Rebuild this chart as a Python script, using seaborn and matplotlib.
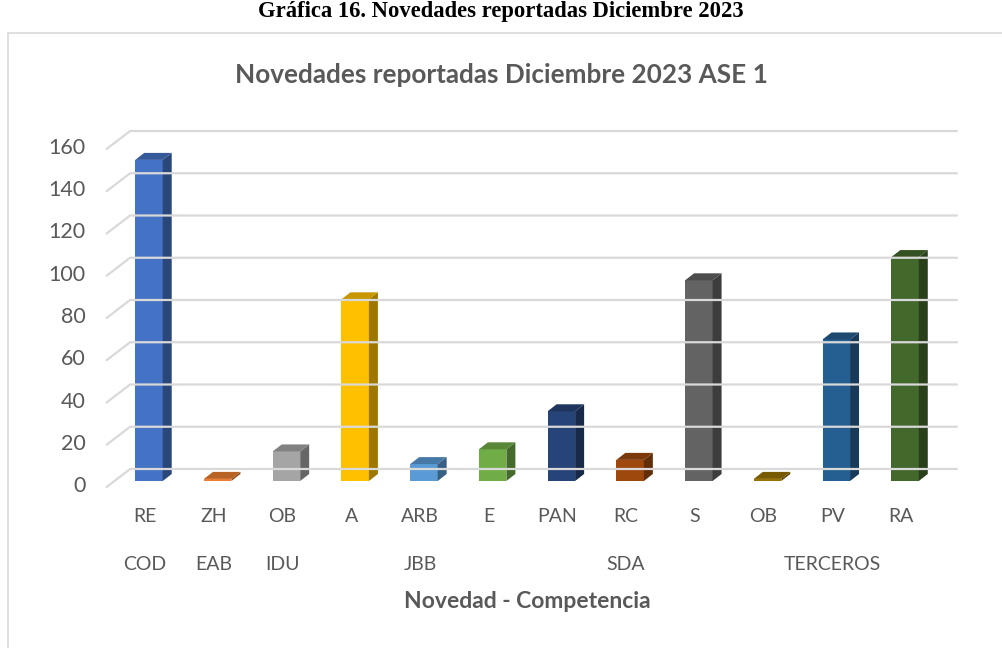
import matplotlib
matplotlib.use("Agg")
import matplotlib.pyplot as plt
import matplotlib.colors as mcolors
import matplotlib.transforms as mtransforms
from matplotlib.patches import Polygon, Rectangle
from matplotlib.lines import Line2D
import seaborn as sns
import pandas as pd

# Data
novedades = ['RE', 'ZH', 'OB', 'A', 'ARB', 'E', 'PAN', 'RC', 'S', 'OB', 'PV', 'RA']
competencias = ['COD', 'EAB', 'IDU', 'JBB', 'SDA', 'TERCEROS']
grupo = ['COD', 'EAB', 'IDU', 'JBB', 'JBB', 'JBB', 'SDA', 'SDA', 'SDA', 'TERCEROS', 'TERCEROS', 'TERCEROS']
cantidad = [152, 1, 14, 86, 8, 15, 33, 10, 95, 1, 67, 106]
colores = ['#4472C4', '#ED7D31', '#A5A5A5', '#FFC000', '#5B9BD5', '#70AD47',
           '#264478', '#9E480E', '#636363', '#997300', '#255E91', '#43682B']
y_ticks = [0, 20, 40, 60, 80, 100, 120, 140, 160]

df = pd.DataFrame({'pos': range(len(novedades)), 'novedad': novedades,
                   'grupo': grupo, 'cantidad': cantidad})

sns.set_style('white')
plt.rcParams['font.family'] = ['Lato', 'DejaVu Sans']
gris = '#595959'
W, H = 1002, 648

fig = plt.figure(figsize=(W / 100, H / 100), dpi=100)
ax = fig.add_axes([114.6 / W, (H - 481) / H, 824.8 / W, 338 / H])

sns.barplot(data=df, x='pos', y='cantidad', hue='pos', palette=colores,
            legend=False, width=0.4, ax=ax, zorder=3, saturation=1,
            edgecolor='none', linewidth=0)
ax.set_xlim(-0.5, len(novedades) - 0.5)
ax.set_ylim(0, 160)
sns.despine(ax=ax, left=True, bottom=True)
ax.set_xlabel('')
ax.set_ylabel('')

# depth of the 3D effect, in pixels
dx, dy = 9, 7
ident = mtransforms.IdentityTransform()

# back-wall gridlines with the oblique floor segment
x_left = ax.transData.transform((-0.5, 0))[0]
x_right = ax.transData.transform((len(novedades) - 0.5, 0))[0]
for v in y_ticks:
    yf = ax.transData.transform((0, v))[1]
    line = Line2D([x_left - 8, x_left + 15.5, x_right + 17.5],
                  [yf - 6, yf + 12, yf + 12], transform=ident,
                  color='#D9D9D9', lw=1.6, zorder=1)
    fig.add_artist(line)

# side and top faces of each bar
for patch, col in zip(ax.patches, colores):
    x0, y0 = ax.transData.transform((patch.get_x(), 0))
    x1, y1 = ax.transData.transform((patch.get_x() + patch.get_width(), patch.get_height()))
    rgb = mcolors.to_rgb(col)
    side = tuple(c * 0.62 for c in rgb)
    top = tuple(c * 0.78 for c in rgb)
    ax.add_patch(Polygon([(x1, y0), (x1, y1), (x1 + dx, y1 + dy), (x1 + dx, y0 + dy)],
                         closed=True, transform=ident, facecolor=side, edgecolor='none',
                         zorder=4, clip_on=False))
    ax.add_patch(Polygon([(x0, y1), (x1, y1), (x1 + dx, y1 + dy), (x0 + dx, y1 + dy)],
                         closed=True, transform=ident, facecolor=top, edgecolor='none',
                         zorder=4, clip_on=False))

# y ticks
ax.set_yticks(y_ticks)
ax.set_yticklabels([str(v) for v in y_ticks], fontsize=15.5, color=gris)
ax.tick_params(axis='y', length=0, pad=21)
shift = mtransforms.ScaledTranslation(0, -3 / 100, fig.dpi_scale_trans)
for lab in ax.get_yticklabels():
    lab.set_transform(lab.get_transform() + shift)

# x labels: novedad row and competencia row
ax.set_xticks([])
xshift = mtransforms.ScaledTranslation(-4 / 100, 0, fig.dpi_scale_trans)
blend = mtransforms.blended_transform_factory(ax.transData, ax.transAxes) + xshift
for i, nov in enumerate(novedades):
    ax.text(i, -36 / 338, nov, transform=blend, ha='center', va='center',
            fontsize=14, color=gris)
for comp in competencias:
    idx = df.loc[df['grupo'] == comp, 'pos']
    ax.text(idx.mean(), -84 / 338, comp, transform=blend, ha='center', va='center',
            fontsize=14, color=gris)
ax.text(0.5, -121 / 338, 'Novedad - Competencia', transform=ax.transAxes,
        ha='center', va='center', fontsize=16.5, fontweight='bold', color=gris)

# titles
fig.text(0.5, 1 - 75 / H, 'Novedades reportadas Diciembre 2023 ASE 1', ha='center',
         va='center', fontsize=18.8, fontweight='bold', color=gris)
fig.text(0.5, 1 - 11 / H, 'Gráfica 16. Novedades reportadas Diciembre 2023', ha='center',
         va='center', fontsize=16.3, fontweight='bold', color='black',
         family='Liberation Serif')

# chart area border
fig.add_artist(Rectangle((8 / W, -0.02), 1.5, (H - 33) / H + 0.02, transform=fig.transFigure,
                         facecolor='none', edgecolor='#D9D9D9', lw=1.2))

fig.savefig('out.png', dpi=100)
